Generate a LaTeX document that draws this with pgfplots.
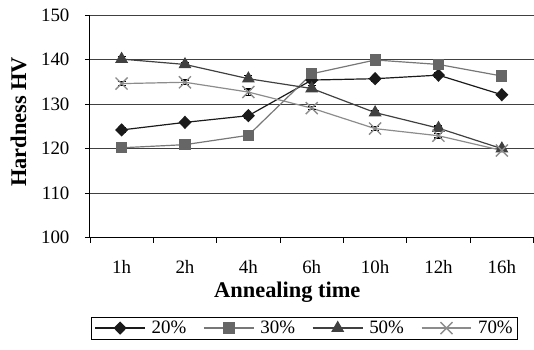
\documentclass[border=0pt]{standalone}
\usepackage{pgfplots}
\pgfplotsset{compat=1.18}
\usepackage{fontspec}
\setmainfont{Liberation Serif}
\definecolor{cA}{HTML}{1A1A1A}
\definecolor{cB}{HTML}{666666}
\definecolor{cBl}{HTML}{777777}
\definecolor{cC}{HTML}{404040}
\definecolor{cD}{HTML}{8C8C8C}
\begin{document}
\begin{tikzpicture}
\begin{axis}[name=ax, scale only axis, width=444bp, height=223bp,
  xmin=-0.5, xmax=6.5, ymin=100, ymax=150,
  axis lines=left, axis line style={-, line width=0.9bp},
  xtick={0,...,6}, xticklabels={1h,2h,4h,6h,10h,12h,16h},
  minor xtick={-0.5,0.5,...,6.5},
  every major x tick/.style={draw=none},
  ytick={100,110,...,150}, ymajorgrids,
  grid style={line width=0.8bp, color=black!75},
  tick align=outside, major tick length=5bp, minor tick length=5bp,
  tick style={black, line width=0.8bp},
  /pgf/number format/assume math mode=true,
  tick label style={font=\fontsize{19}{22}\selectfont},
  xticklabel style={yshift=-14bp},
  yticklabel style={xshift=-12bp},
  xlabel={Annealing time}, ylabel={Hardness HV},
  label style={font=\fontsize{22.5}{26}\selectfont\bfseries},
  xlabel style={at={(axis description cs:0.445,0)}, anchor=north, yshift=-41bp},
  ylabel style={at={(axis description cs:0,0.52)}, anchor=south, yshift=60bp},
  legend columns=4,
  legend style={at={(axis description cs:0.484,-0.354)}, anchor=north,
    font=\fontsize{19}{22}\selectfont, draw=black, line width=0.8bp,
    inner xsep=3bp, inner ysep=2bp,
    /tikz/every odd column/.append style={column sep=4bp},
    /tikz/every even column/.append style={column sep=15bp}},
  legend image code/.code={\draw[mark repeat=2,mark phase=2] plot coordinates {(0bp,0bp) (25bp,0bp) (50bp,0bp)};},
  error bars/y dir=both, error bars/y explicit,
  error bars/error bar style={black, line width=0.8bp},
  error bars/error mark options={rotate=90, mark size=4bp, black, line width=1.2bp},
]
\addplot[color=cA, line width=1.2bp, mark=diamond*, mark size=5.8bp, mark options={fill=cA, draw=cA, xscale=1.3}]
  coordinates {(0,124.2)+-(0,0.5) (1,125.9)+-(0,0.5) (2,127.4)+-(0,0.5) (3,135.4)+-(0,0.5) (4,135.7)+-(0,0.5) (5,136.5)+-(0,0.5) (6,132.1)+-(0,0.3)};
\addlegendentry{20\%}
\addplot[color=cBl, line width=1.2bp, mark=square*, mark size=5bp, mark options={fill=cB, draw=cB}]
  coordinates {(0,120.2)+-(0,0.5) (1,120.9)+-(0,0.3) (2,123.0)+-(0,0.5) (3,136.8)+-(0,0.5) (4,139.9)+-(0,0.3) (5,138.9)+-(0,0.3) (6,136.3)+-(0,0.3)};
\addlegendentry{30\%}
\addplot[color=cC, line width=1.2bp, mark=triangle*, mark size=6.3bp, mark options={fill=cC, draw=cC}]
  coordinates {(0,140.1)+-(0,0.5) (1,138.9)+-(0,0.5) (2,135.7)+-(0,0.7) (3,133.5)+-(0,0.7) (4,128.1)+-(0,0.5) (5,124.6)+-(0,0.5) (6,120.0)+-(0,0.3)};
\addlegendentry{50\%}
\addplot[color=cD, line width=1.2bp, mark=x, mark size=8.5bp, mark options={draw=cD, line width=1.4bp}]
  coordinates {(0,134.6)+-(0,0.5) (1,134.9)+-(0,0.5) (2,132.7)+-(0,0.7) (3,129.1)+-(0,0.3) (4,124.5)+-(0,0.5) (5,122.9)+-(0,0.5) (6,119.6)+-(0,0.3)};
\addlegendentry{70\%}
\end{axis}
\path (ax.south west) ++(-90bp,-112bp) coordinate (bbl);
\path (ax.north east) ++(0bp,15bp) coordinate (btr);
\useasboundingbox (bbl) rectangle (btr);
\end{tikzpicture}
\end{document}
